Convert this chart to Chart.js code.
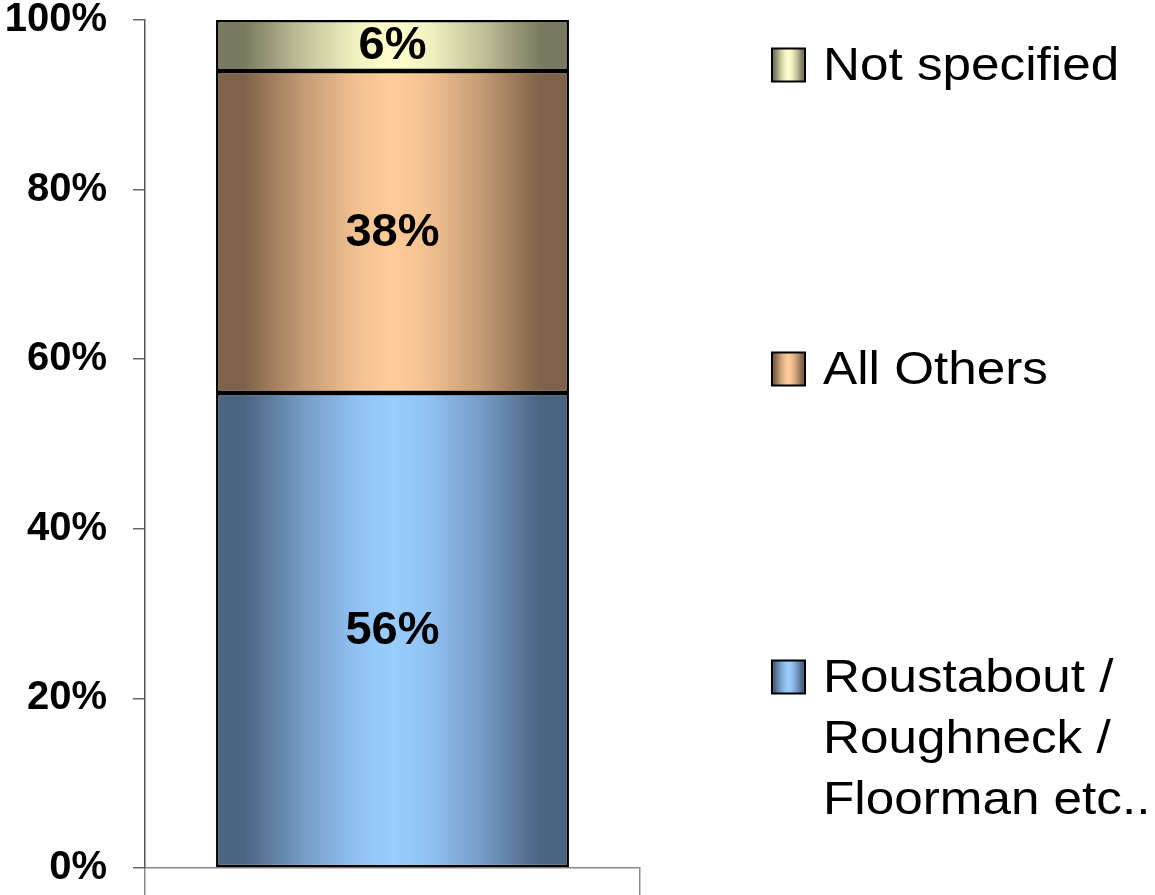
<!DOCTYPE html>
<html>
<head>
<meta charset="utf-8">
<script src="https://cdn.jsdelivr.net/npm/chart.js@4.4.1/dist/chart.umd.min.js"></script>
<style>
html,body{margin:0;padding:0;background:#fff;}
#wrap{width:1155px;height:895px;position:relative;}
</style>
</head>
<body>
<div id="wrap"><canvas id="c" width="1155" height="895"></canvas></div>
<script>
const categories = [''];
const seriesNames = [['Roustabout /', 'Roughneck /', 'Floorman etc..'], ['All Others'], ['Not specified']];
const roustaboutValues = [56];
const allOthersValues = [38];
const notSpecifiedValues = [6];
const yTicks = [0, 20, 40, 60, 80, 100];

const lightColors = ['#99ccff', '#ffcc99', '#ffffcc'];
const darkColors = ['#4b6482', '#7f6248', '#7a7a60'];
const BAR_FRACTION = 0.713;

function mix(c1, c2, t) {
  const a = parseInt(c1.slice(1), 16), b = parseInt(c2.slice(1), 16);
  const r = Math.round(((a >> 16) & 255) * (1 - t) + ((b >> 16) & 255) * t);
  const g = Math.round(((a >> 8) & 255) * (1 - t) + ((b >> 8) & 255) * t);
  const bl = Math.round((a & 255) * (1 - t) + (b & 255) * t);
  return 'rgb(' + r + ',' + g + ',' + bl + ')';
}
function makeGradient(ctx, x0, x1, i) {
  const g = ctx.createLinearGradient(x0, 0, x1, 0);
  const d = darkColors[i], l = lightColors[i];
  g.addColorStop(0, d);
  g.addColorStop(0.08, d);
  g.addColorStop(0.25, mix(d, l, 0.55));
  g.addColorStop(0.4, mix(d, l, 0.9));
  g.addColorStop(0.5, l);
  g.addColorStop(0.6, mix(d, l, 0.9));
  g.addColorStop(0.75, mix(d, l, 0.55));
  g.addColorStop(0.92, d);
  g.addColorStop(1, d);
  return g;
}
function barBg(i) {
  return function (context) {
    const chart = context.chart;
    const area = chart.chartArea;
    if (!area) return lightColors[i];
    const xs = chart.scales.x;
    const cx = xs.getPixelForValue(0);
    const w = (area.right - area.left) * BAR_FRACTION;
    return makeGradient(chart.ctx, cx - w / 2, cx + w / 2, i);
  };
}

const dataLabels = {
  id: 'dataLabels',
  afterDatasetsDraw(chart) {
    const ctx = chart.ctx;
    ctx.save();
    ctx.font = 'bold 47px "Liberation Sans", Arial, sans-serif';
    ctx.fillStyle = '#000';
    ctx.textAlign = 'center';
    ctx.textBaseline = 'middle';
    chart.data.datasets.forEach((ds, di) => {
      const meta = chart.getDatasetMeta(di);
      meta.data.forEach((el, j) => {
        const p = el.getProps(['x', 'y', 'base'], true);
        ctx.fillText(ds.data[j] + '%', p.x, (p.y + p.base) / 2 + 1);
      });
    });
    ctx.restore();
  }
};

const legendYs = [677, 369, 65];
const sideLegend = {
  id: 'sideLegend',
  afterDraw(chart) {
    const ctx = chart.ctx;
    ctx.save();
    chart.data.datasets.forEach((ds, i) => {
      const cy = legendYs[i];
      const bx = 772, bs = 33;
      ctx.fillStyle = makeGradient(ctx, bx, bx + bs, i);
      ctx.fillRect(bx, cy - bs / 2, bs, bs);
      ctx.lineWidth = 2;
      ctx.strokeStyle = '#000';
      ctx.strokeRect(bx, cy - bs / 2, bs, bs);
      ctx.fillStyle = '#000';
      const lines = seriesNames[i];
      lines.forEach((t, k) => {
        ctx.save();
        ctx.translate(823, cy + 2 + k * 61);
        ctx.scale(1.09, 1);
        ctx.font = '47px "Liberation Sans", Arial, sans-serif';
        ctx.textBaseline = 'middle';
        ctx.textAlign = 'left';
        ctx.fillText(t, 0, 0);
        ctx.restore();
      });
    });
    ctx.restore();
  }
};

new Chart(document.getElementById('c'), {
  type: 'bar',
  data: {
    labels: categories,
    datasets: [
      { label: seriesNames[0].join(' '), data: roustaboutValues, backgroundColor: barBg(0) },
      { label: seriesNames[1].join(' '), data: allOthersValues, backgroundColor: barBg(1) },
      { label: seriesNames[2].join(' '), data: notSpecifiedValues, backgroundColor: barBg(2) }
    ].map(d => Object.assign(d, {
      borderColor: '#000', borderWidth: 2.5, borderSkipped: false,
      barPercentage: BAR_FRACTION, categoryPercentage: 1
    }))
  },
  options: {
    responsive: false,
    animation: false,
    devicePixelRatio: 1,
    layout: { padding: { top: 20, right: 515, left: 0, bottom: 0 } },
    plugins: { legend: { display: false }, tooltip: { enabled: false } },
    scales: {
      x: {
        stacked: true,
        grid: { offset: true, drawOnChartArea: false, drawTicks: true, tickLength: 27, color: '#888', lineWidth: 1.5 },
        border: { color: '#888', width: 1.5 },
        ticks: { display: false },
        afterFit(s) { s.height = 27; s.paddingLeft = 0; s.paddingRight = 0; }
      },
      y: {
        stacked: true,
        min: 0, max: 100,
        afterBuildTicks(s) { s.ticks = yTicks.map(v => ({ value: v })); },
        ticks: {
          padding: 26,
          color: '#000',
          font: { family: '"Liberation Sans", Arial, sans-serif', size: 40, weight: 'bold', lineHeight: 1 },
          callback: v => v + '%'
        },
        grid: { drawOnChartArea: false, drawTicks: true, tickLength: 12, color: '#666', lineWidth: 1.5 },
        border: { color: '#555', width: 1.5 },
        afterFit(s) { s.width = 145; s.paddingTop = 0; s.paddingBottom = 0; }
      }
    }
  },
  plugins: [dataLabels, sideLegend]
});
</script>
</body>
</html>
